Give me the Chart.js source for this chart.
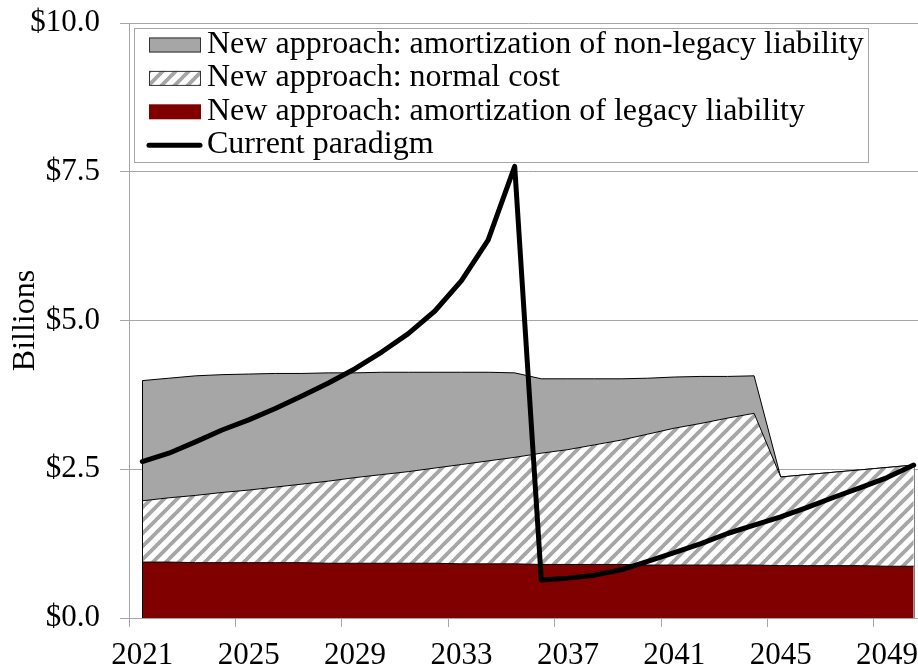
<!DOCTYPE html>
<html>
<head>
<meta charset="utf-8">
<script src="https://cdn.jsdelivr.net/npm/chart.js@4.4.0/dist/chart.umd.min.js"></script>
<style>
  html, body { margin: 0; padding: 0; background: #fff; overflow: hidden; }
  #wrap { width: 918px; height: 670px; overflow: hidden; }
</style>
</head>
<body>
<div id="wrap"><canvas id="chart" width="930" height="670"></canvas></div>
<script>
// values in $ billions
var years = [2021, 2022, 2023, 2024, 2025, 2026, 2027, 2028, 2029, 2030,
             2031, 2032, 2033, 2034, 2035, 2036, 2037, 2038, 2039, 2040,
             2041, 2042, 2043, 2044, 2045, 2046, 2047, 2048, 2049, 2050];
var legacy = [0.94, 0.94, 0.93, 0.93, 0.93, 0.93, 0.93, 0.92, 0.92, 0.92,
              0.92, 0.92, 0.91, 0.91, 0.91, 0.90, 0.90, 0.90, 0.90, 0.89,
              0.89, 0.89, 0.89, 0.89, 0.88, 0.88, 0.88, 0.88, 0.87, 0.87];
var normalCost = [1.03, 1.08, 1.13, 1.18, 1.22, 1.27, 1.32, 1.38, 1.44, 1.49,
                  1.54, 1.60, 1.67, 1.73, 1.79, 1.87, 1.93, 2.01, 2.09, 2.20,
                  2.30, 2.38, 2.47, 2.55, 1.49, 1.53, 1.57, 1.61, 1.66, 1.70];
var nonLegacy = [2.02, 2.01, 2.01, 1.98, 1.95, 1.91, 1.86, 1.82, 1.76, 1.72,
                 1.67, 1.61, 1.55, 1.49, 1.42, 1.25, 1.19, 1.11, 1.03, 0.94,
                 0.86, 0.79, 0.70, 0.63, 0, 0, 0, 0, 0, 0];
var currentParadigm = [2.63, 2.77, 2.96, 3.16, 3.33, 3.52, 3.73, 3.95, 4.19, 4.47,
                       4.78, 5.16, 5.67, 6.35, 7.59, 0.64, 0.67, 0.72, 0.81, 0.95,
                       1.10, 1.25, 1.42, 1.56, 1.70, 1.86, 2.03, 2.19, 2.36, 2.57];
var yTicks = [0, 2.5, 5, 7.5, 10];

var FONT = 'Liberation Serif';
var GRID = '#a6a6a6';

function stripes() {
  var s = 13;
  var c = document.createElement('canvas');
  c.width = s; c.height = s;
  var g = c.getContext('2d');
  g.fillStyle = '#fff';
  g.fillRect(0, 0, s, s);
  g.strokeStyle = '#a6a6a6';
  g.lineWidth = 3.8;
  g.beginPath();
  for (var k = 0; k <= 2; k++) {
    g.moveTo(k * s - s - 1, s + 1);
    g.lineTo(k * s + 1, -1);
  }
  g.stroke();
  return g.createPattern(c, 'repeat');
}

var hatch = stripes();

// closes the stacked areas at the first and last year
var areaEdges = {
  id: 'areaEdges',
  beforeDatasetDraw: function (chart, args) {
    if (args.index !== 0) return;
    var x = chart.scales.x, y = chart.scales.y, ctx = chart.ctx;
    var last = years.length - 1;
    function edge(i, color) {
      var top = legacy[i] + normalCost[i] + nonLegacy[i];
      var px = Math.round(x.getPixelForValue(i)) + 0.5;
      ctx.strokeStyle = color;
      ctx.lineWidth = 1;
      ctx.beginPath();
      ctx.moveTo(px, y.getPixelForValue(0));
      ctx.lineTo(px, y.getPixelForValue(top));
      ctx.stroke();
    }
    ctx.save();
    edge(0, '#000');
    edge(last, '#808080');
    ctx.restore();
  }
};

// legend drawn inside the plot, like the original
var legendBox = {
  id: 'legendBox',
  afterDraw: function (chart) {
    var ctx = chart.ctx;
    var ds = chart.data.datasets;
    var rows = [ds[3], ds[2], ds[1], ds[0]];
    ctx.save();
    ctx.fillStyle = '#fff';
    ctx.fillRect(134.5, 28.5, 734, 134);
    ctx.strokeStyle = GRID;
    ctx.lineWidth = 1;
    ctx.strokeRect(134.5, 28.5, 734, 134);
    ctx.font = '32px "' + FONT + '"';
    ctx.textBaseline = 'alphabetic';
    ctx.textAlign = 'left';
    rows.forEach(function (d, i) {
      var cy = 45 + i * 33.4;
      if (d.type === 'line') {
        ctx.strokeStyle = '#000';
        ctx.lineWidth = 5;
        ctx.lineCap = 'round';
        ctx.beginPath();
        ctx.moveTo(149, cy);
        ctx.lineTo(200, cy);
        ctx.stroke();
      } else {
        ctx.fillStyle = d.backgroundColor;
        ctx.fillRect(149, cy - 7.5, 52, 15);
        if (d.swatchBorder) {
          ctx.strokeStyle = '#333';
          ctx.lineWidth = 1;
          ctx.strokeRect(149.5, cy - 7, 51, 14);
        }
      }
      ctx.fillStyle = '#000';
      ctx.fillText(d.label, 207, cy + 8);
    });
    ctx.restore();
  }
};

new Chart(document.getElementById('chart'), {
  type: 'line',
  data: {
    labels: years,
    datasets: [
      {
        label: 'Current paradigm',
        type: 'line',
        data: currentParadigm,
        stack: 'p',
        order: 0,
        borderColor: '#000',
        borderWidth: 5,
        borderJoinStyle: 'round',
        borderCapStyle: 'round',
        pointRadius: 0,
        fill: false,
        tension: 0
      },
      {
        label: 'New approach: amortization of legacy liability',
        data: legacy,
        stack: 'a',
        order: 1,
        backgroundColor: '#800000',
        borderColor: '#000',
        borderWidth: 1,
        pointRadius: 0,
        fill: 'origin'
      },
      {
        label: 'New approach: normal cost',
        data: normalCost,
        stack: 'a',
        order: 2,
        backgroundColor: hatch,
        swatchBorder: true,
        borderColor: '#000',
        borderWidth: 1,
        pointRadius: 0,
        fill: '-1'
      },
      {
        label: 'New approach: amortization of non-legacy liability',
        data: nonLegacy,
        stack: 'a',
        order: 3,
        backgroundColor: '#a6a6a6',
        swatchBorder: true,
        borderColor: '#000',
        borderWidth: 1,
        pointRadius: 0,
        fill: '-1'
      }
    ]
  },
  options: {
    responsive: false,
    animation: false,
    devicePixelRatio: 1,
    layout: { padding: { left: 0, top: 23, right: 3, bottom: 0 } },
    plugins: {
      legend: { display: false },
      tooltip: { enabled: false }
    },
    scales: {
      x: {
        offset: true,
        afterFit: function (s) {
          s.height = 52;
          s.paddingLeft = 0;
          s.paddingRight = 0;
        },
        border: { color: GRID },
        grid: {
          offset: true,
          drawOnChartArea: false,
          tickLength: 9,
          color: function (c) { return c.index % 4 === 0 ? GRID : 'rgba(0,0,0,0)'; }
        },
        ticks: {
          autoSkip: false,
          maxRotation: 0,
          padding: 10,
          color: '#000',
          font: { family: FONT, size: 31 },
          callback: function (v, i) { return i % 4 === 0 ? this.getLabelForValue(v) : ''; }
        }
      },
      y: {
        stacked: true,
        min: 0,
        max: 10,
        afterFit: function (s) {
          s.width = 129;
          s.paddingTop = 0;
          s.paddingBottom = 0;
        },
        afterBuildTicks: function (s) { s.ticks = yTicks.map(function (v) { return { value: v }; }); },
        border: { color: GRID },
        grid: { color: GRID, tickLength: 9 },
        ticks: {
          padding: 20,
          color: '#000',
          font: { family: FONT, size: 31 },
          callback: function (v) { return '$' + v.toFixed(1); }
        },
        title: {
          display: true,
          text: 'Billions',
          color: '#000',
          font: { family: FONT, size: 32 },
          padding: { top: 6, bottom: 0 }
        }
      }
    }
  },
  plugins: [areaEdges, legendBox]
});
</script>
</body>
</html>
